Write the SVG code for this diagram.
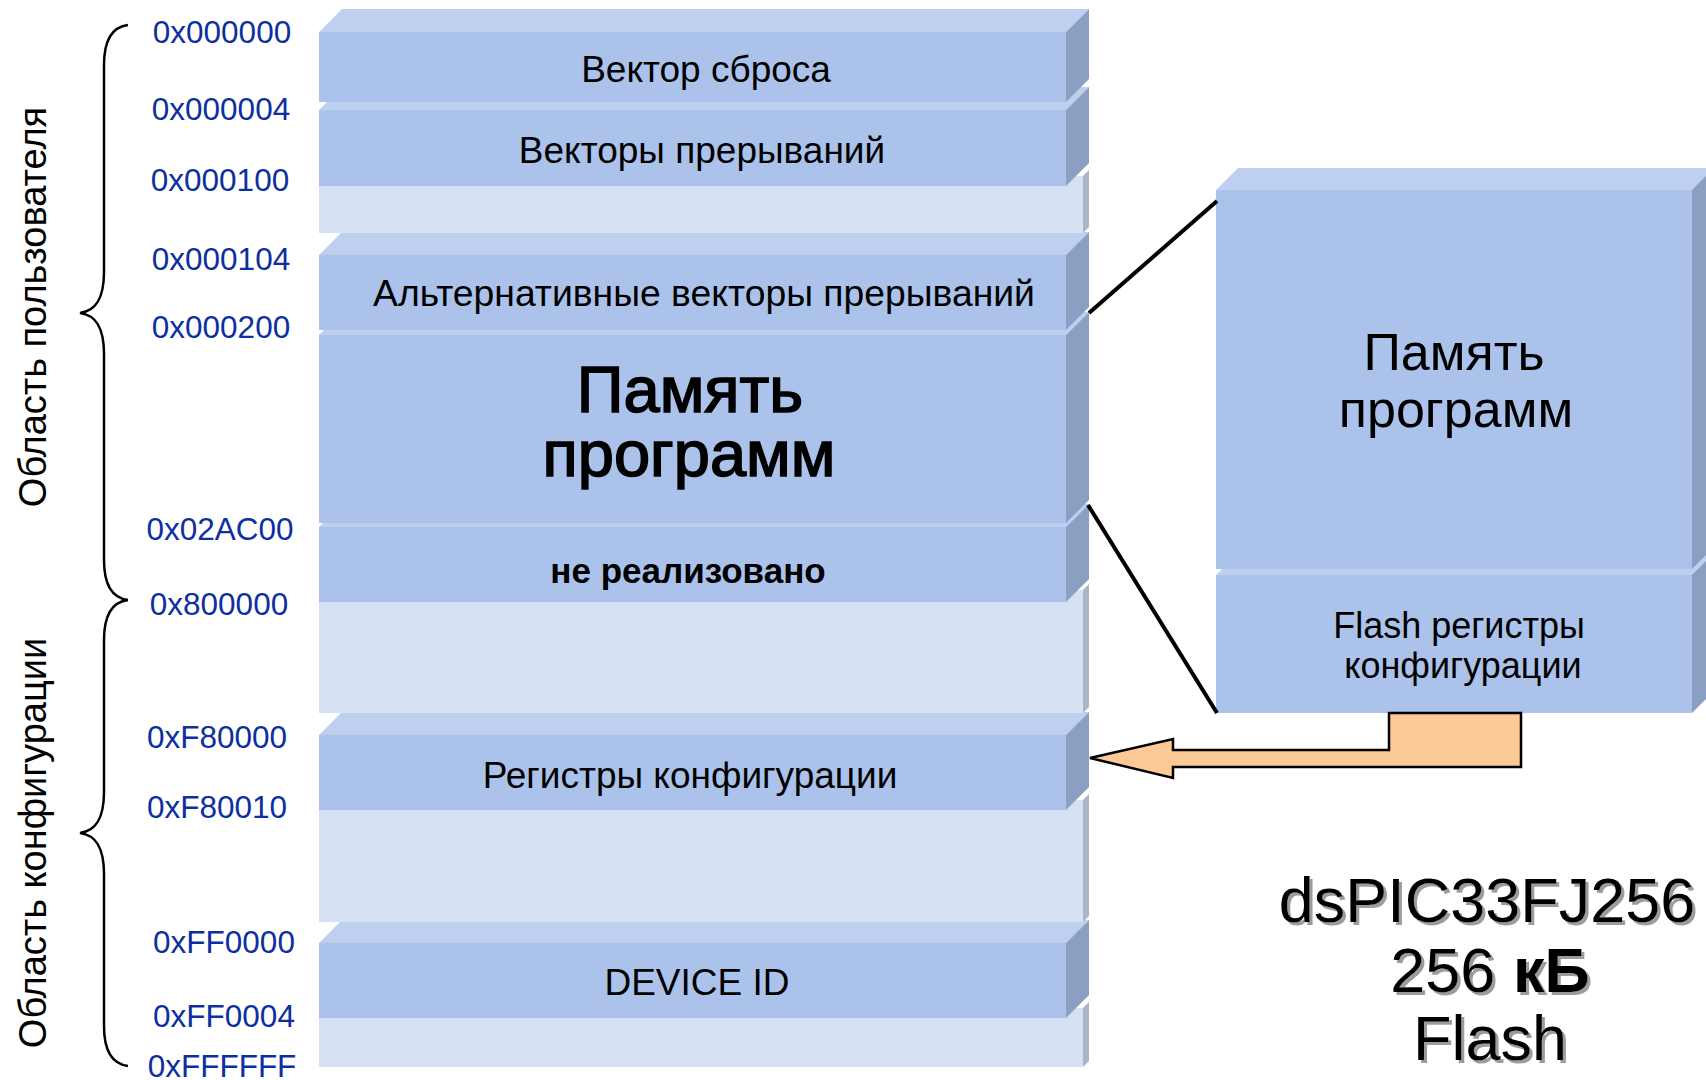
<svg xmlns="http://www.w3.org/2000/svg" width="1706" height="1080" viewBox="0 0 1706 1080">
  <defs>
    <style>
      .front { fill: #abc3eb; }
      .top { fill: #bdd0f0; }
      .side { fill: #8a9fc1; }
      .gap { fill: #d6e1f4; }
      .gapside { fill: #a9b6c9; }
      .lbl { font-family: "Liberation Sans", Arial, sans-serif; font-size: 37px; fill: #000; text-anchor: middle; }
      .addr { font-family: "Liberation Sans", Arial, sans-serif; font-size: 31.5px; fill: #0d2f9f; text-anchor: middle; }
      .region { font-family: "Liberation Sans", Arial, sans-serif; font-size: 38px; fill: #000; text-anchor: middle; }
      .brace { fill: none; stroke: #000; stroke-width: 2.5; }
      .link { fill: none; stroke: #000; stroke-width: 4; }
      .big { font-family: "Liberation Sans", Arial, sans-serif; font-size: 65px; fill: #000; stroke: #000; stroke-width: 1.6; text-anchor: middle; }
      .rbox { font-family: "Liberation Sans", Arial, sans-serif; fill: #000; text-anchor: middle; }
      .chip { font-family: "Liberation Sans", Arial, sans-serif; font-size: 63px; fill: #000; text-anchor: middle; }
    </style>
    <filter id="shadow" x="-5%" y="-10%" width="115%" height="130%">
      <feDropShadow dx="3" dy="3" stdDeviation="0.6" flood-color="#9c9c9c" flood-opacity="1"/>
    </filter>
  </defs>

  <!-- memory map column, drawn from the bottom up so upper slabs overlap lower ones -->
  <g id="gap4">
    <rect class="gap" x="319" y="1008" width="764" height="59"/>
    <polygon class="gapside" points="1083,1008 1089,1002 1089,1061 1083,1067"/>
  </g>
  <g id="device-id">
    <polygon class="top" points="319,943 342,920 1089,920 1066,943"/>
    <rect class="front" x="319" y="943" width="747" height="75"/>
    <polygon class="side" points="1066,943 1089,920 1089,995 1066,1018"/>
    <text class="lbl" x="697" y="995">DEVICE ID</text>
  </g>
  <g id="gap3">
    <rect class="gap" x="319" y="800" width="764" height="122"/>
    <polygon class="gapside" points="1083,800 1089,794 1089,916 1083,922"/>
  </g>
  <g id="config-regs">
    <polygon class="top" points="319,735 342,712 1089,712 1066,735"/>
    <rect class="front" x="319" y="735" width="747" height="75"/>
    <polygon class="side" points="1066,735 1089,712 1089,787 1066,810"/>
    <text class="lbl" x="690" y="788">Регистры конфигурации</text>
  </g>
  <g id="gap2">
    <rect class="gap" x="319" y="590" width="764" height="123"/>
    <polygon class="gapside" points="1083,590 1089,584 1089,707 1083,713"/>
  </g>
  <g id="unimplemented">
    <polygon class="top" points="319,527 342,504 1089,504 1066,527"/>
    <rect class="front" x="319" y="527" width="747" height="75"/>
    <polygon class="side" points="1066,527 1089,504 1089,579 1066,602"/>
    <text class="lbl" x="688" y="583" style="font-size:35px;font-weight:bold">не реализовано</text>
  </g>
  <g id="program-memory">
    <polygon class="top" points="319,335 342,312 1089,312 1066,335"/>
    <rect class="front" x="319" y="335" width="747" height="188"/>
    <polygon class="side" points="1066,335 1089,312 1089,500 1066,523"/>
    <text class="big" x="690" y="412">Память</text>
    <text class="big" x="689" y="476">программ</text>
  </g>
  <g id="alt-vectors">
    <polygon class="top" points="319,255 342,232 1089,232 1066,255"/>
    <rect class="front" x="319" y="255" width="747" height="75"/>
    <polygon class="side" points="1066,255 1089,232 1089,307 1066,330"/>
    <text class="lbl" x="704" y="306" style="font-size:37.3px">Альтернативные векторы прерываний</text>
  </g>
  <g id="gap1">
    <rect class="gap" x="319" y="176" width="764" height="57"/>
    <polygon class="gapside" points="1083,176 1089,170 1089,227 1083,233"/>
  </g>
  <g id="int-vectors">
    <polygon class="top" points="319,110 342,87 1089,87 1066,110"/>
    <rect class="front" x="319" y="110" width="747" height="76"/>
    <polygon class="side" points="1066,110 1089,87 1089,163 1066,186"/>
    <text class="lbl" x="702" y="163">Векторы прерываний</text>
  </g>
  <g id="reset-vector">
    <polygon class="top" points="319,32 342,9 1089,9 1066,32"/>
    <rect class="front" x="319" y="32" width="747" height="70"/>
    <polygon class="side" points="1066,32 1089,9 1089,79 1066,102"/>
    <text class="lbl" x="706" y="82">Вектор сброса</text>
  </g>

  <!-- address labels -->
  <g id="addresses">
    <text class="addr" x="222" y="43">0x000000</text>
    <text class="addr" x="221" y="120">0x000004</text>
    <text class="addr" x="220" y="191">0x000100</text>
    <text class="addr" x="221" y="270">0x000104</text>
    <text class="addr" x="221" y="338">0x000200</text>
    <text class="addr" x="220" y="540">0x02AC00</text>
    <text class="addr" x="219" y="615">0x800000</text>
    <text class="addr" x="217" y="748">0xF80000</text>
    <text class="addr" x="217" y="818">0xF80010</text>
    <text class="addr" x="224" y="953">0xFF0000</text>
    <text class="addr" x="224" y="1027">0xFF0004</text>
    <text class="addr" x="222" y="1077">0xFFFFFF</text>
  </g>

  <!-- region braces and captions -->
  <g id="user-region">
    <path class="brace" d="M128,25 C112,27 104,40 104,65 L104,272 C104,300 95,311 80,313 C95,315 104,326 104,354 L104,560 C104,585 112,598 128,600"/>
    <text class="region" transform="translate(46,307) rotate(-90)">Область пользователя</text>
  </g>
  <g id="config-region">
    <path class="brace" d="M128,600 C112,602 104,615 104,640 L104,792 C104,820 95,831 80,833 C95,835 104,846 104,874 L104,1026 C104,1051 112,1064 128,1066"/>
    <text class="region" transform="translate(46,843) rotate(-90)">Область конфигурации</text>
  </g>

  <!-- enlarged view of the Flash program space -->
  <g id="flash-config">
    <polygon class="top" points="1216,575 1238,553 1730,553 1692,575"/>
    <rect class="front" x="1216" y="575" width="476" height="138"/>
    <polygon class="side" points="1692,575 1714,553 1714,691 1692,713"/>
    <text class="rbox" x="1459" y="638" font-size="36">Flash регистры</text>
    <text class="rbox" x="1463" y="678" font-size="36">конфигурации</text>
  </g>
  <g id="flash-program">
    <polygon class="top" points="1216,190 1238,168 1730,168 1692,190"/>
    <rect class="front" x="1216" y="190" width="476" height="379"/>
    <polygon class="side" points="1692,190 1714,168 1714,547 1692,569"/>
    <text class="rbox" x="1454" y="370" font-size="52">Память</text>
    <text class="rbox" x="1456" y="427" font-size="52">программ</text>
  </g>

  <!-- connectors -->
  <g id="connectors">
    <line class="link" x1="1089" y1="313" x2="1217" y2="201"/>
    <line class="link" x1="1088" y1="505" x2="1217" y2="713"/>
    <polygon points="1090,758 1173,739 1173,750 1389,750 1389,713 1521,713 1521,767 1173,767 1173,778" fill="#fdc996" stroke="#000" stroke-width="2.5" stroke-linejoin="miter"/>
  </g>

  <!-- device caption -->
  <g id="device-caption" filter="url(#shadow)">
    <text class="chip" x="1487" y="922">dsPIC33FJ256</text>
    <text class="chip" x="1490" y="992">256 <tspan font-weight="bold">кБ</tspan></text>
    <text class="chip" x="1490" y="1060">Flash</text>
  </g>
</svg>
